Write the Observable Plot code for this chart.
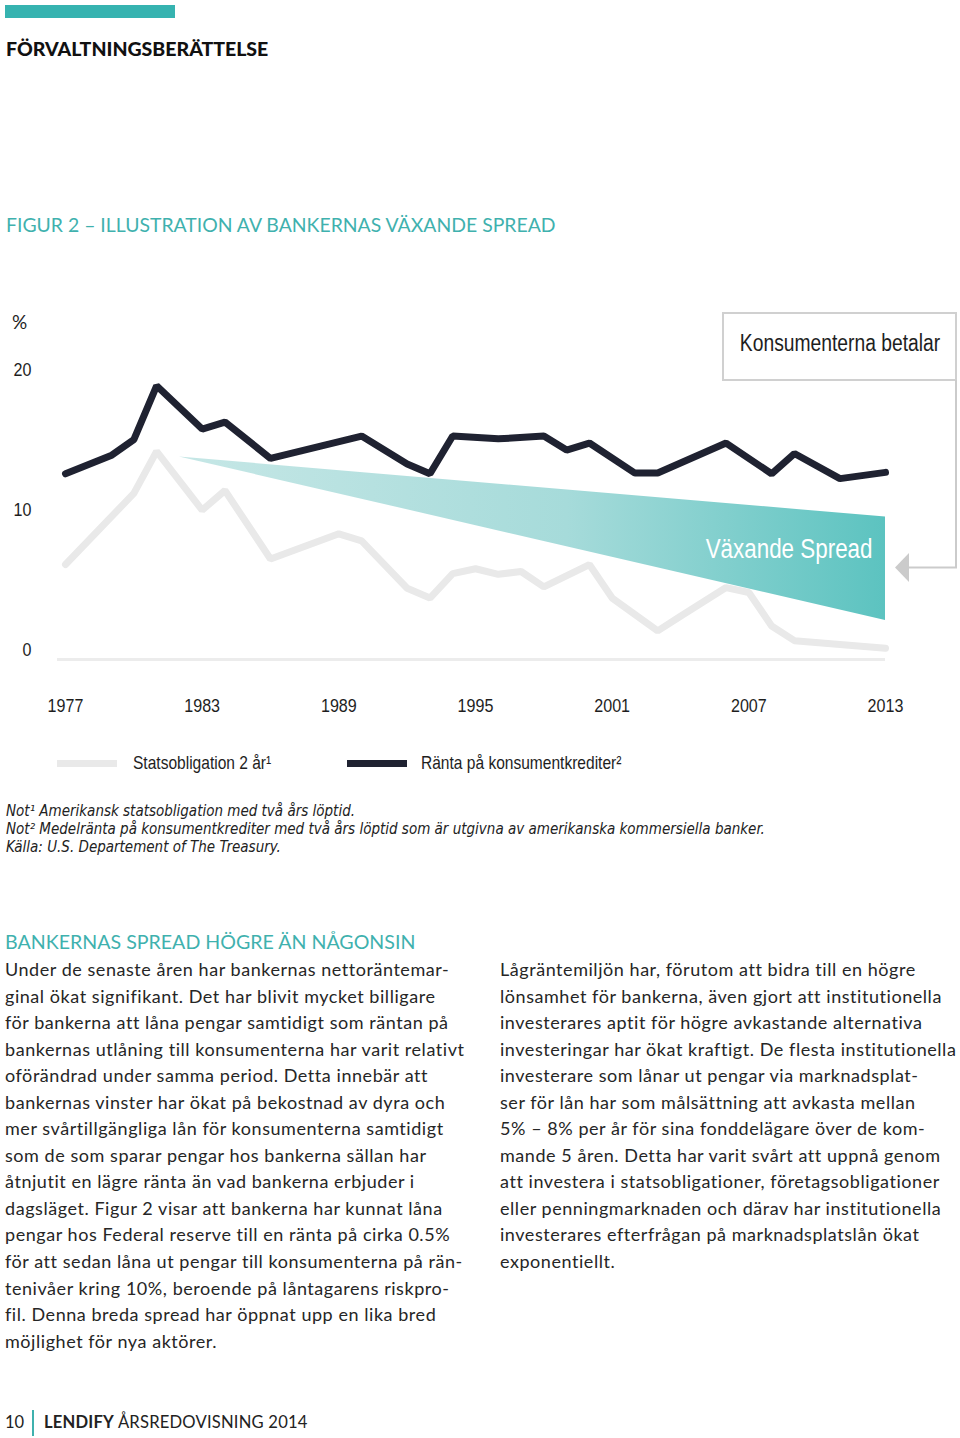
<!DOCTYPE html>
<html><head><meta charset="utf-8">
<script src="https://cdn.jsdelivr.net/npm/d3@7"></script>
<script src="https://cdn.jsdelivr.net/npm/@observablehq/plot@0.6"></script>
<style>
html,body{margin:0;padding:0;background:#fff;}
#page{position:relative;width:960px;height:1438px;overflow:hidden;font-family:Lato,"Open Sans",sans-serif;color:#262626;}
.abs{position:absolute;white-space:nowrap;}
.narrow{font-family:"Liberation Sans",sans-serif;}
.sq{display:inline-block;transform:scaleX(0.84);transform-origin:0 50%;}
.col div{height:26.55px;line-height:26.55px;font-size:18px;letter-spacing:0.55px;white-space:nowrap;}
.foot{font-family:"DejaVu Sans Condensed","Liberation Sans",sans-serif;}
.foot div{height:18px;line-height:18px;font-size:15px;font-style:italic;}
</style></head><body><div id="page">
<div class="abs" style="left:5px;top:5px;width:170px;height:13px;background:#36b3b0"></div>
<div class="abs" style="left:6px;top:38px;font-size:19.5px;font-weight:900;color:#111;line-height:22px">FÖRVALTNINGSBERÄTTELSE</div>
<div class="abs" style="left:6px;top:213px;font-size:19.4px;color:#3fb1ae;line-height:24px">FIGUR 2 – ILLUSTRATION AV BANKERNAS VÄXANDE SPREAD</div>
<div class="abs" style="left:12px;top:310px;font-size:19px;color:#1e1e1e;line-height:24px">%</div>
<div id="chart" class="abs" style="left:0;top:300px"></div>
<div class="abs" style="left:722px;top:312px;width:231px;height:65px;border:2px solid #d0d0d0;background:#fff"></div>
<div class="abs narrow" style="left:840px;top:329px;line-height:28px;font-size:23.5px;color:#1e1e1e;transform:translateX(-50%) scaleX(0.82)">Konsumenterna betalar</div>
<svg class="abs" style="left:0;top:0" width="960" height="700">
<path d="M956,380V567.5H907" fill="none" stroke="#cbcbcb" stroke-width="2"/>
<polygon points="895,567.5 909,553 909,582" fill="#cbcbcb"/>
</svg>
<div id="legend" class="abs narrow" style="left:0;top:750px;width:960px;height:26px;font-size:18.5px;color:#1e1e1e"></div>
<div class="abs foot" style="left:6px;top:802px;color:#222">
<div>Not¹ Amerikansk statsobligation med två års löptid.</div>
<div>Not² Medelränta på konsumentkrediter med två års löptid som är utgivna av amerikanska kommersiella banker.</div>
<div>Källa: U.S. Departement of The Treasury.</div>
</div>
<div class="abs" style="left:5px;top:930px;font-size:19.6px;color:#3fb1ae;line-height:24px">BANKERNAS SPREAD HÖGRE ÄN NÅGONSIN</div>
<div id="col1" class="abs col" style="left:5px;top:956px"></div>
<div id="col2" class="abs col" style="left:500px;top:956px"></div>
<div class="abs" style="left:5px;top:1412px;font-size:16.5px;line-height:20px;color:#222">10</div>
<div class="abs" style="left:32px;top:1410px;width:2px;height:26px;background:#3fb1ae"></div>
<div class="abs" style="left:44px;top:1412px;font-size:16.6px;letter-spacing:0.2px;line-height:20px;color:#222"><b>LENDIFY</b> ÅRSREDOVISNING 2014</div>
</div>
<script>
// ---- chart data ----
const consumerYears = [1977,1979,1980,1981,1983,1984,1986,1990,1992,1993,1994,1996,1998,1999,2000,2002,2003,2006,2008,2009,2011,2013];
const consumerRates = [12.6,13.9,15.05,18.9,15.8,16.3,13.7,15.3,13.3,12.6,15.3,15.1,15.3,14.3,14.8,12.65,12.65,14.8,12.6,14.05,12.25,12.7];
const bondYears = [1977,1980,1981,1983,1984,1986,1989,1990,1992,1993,1994,1995,1996,1997,1998,2000,2001,2003,2004,2006,2007,2008,2009,2013];
const bondRates = [6.1,11.2,14.2,10.0,11.4,6.5,8.3,7.8,4.4,3.7,5.45,5.8,5.4,5.6,4.5,6.1,3.7,1.35,2.4,4.45,4.1,1.7,0.65,0.1];
const spreadYears = [1982, 2013];
const spreadUpper = [13.8, 9.5];
const spreadLower = [13.8, 2.1];
const yearTicks = [1977,1983,1989,1995,2001,2007,2013];
const valueTicks = [0,10,20];
const seriesNames = ["Statsobligation 2 år¹", "Ränta på konsumentkrediter²"];
const seriesColors = ["#e9e9e9", "#1f2231"];
const spreadLabel = "Växande Spread";

const consumer = consumerYears.map((y,i)=>({year:y, value:consumerRates[i]}));
const bond = bondYears.map((y,i)=>({year:y, value:bondRates[i]}));
const spread = spreadYears.map((y,i)=>({year:y, upper:spreadUpper[i], lower:spreadLower[i]}));
const yMin = -0.7;

const gradientDefs = () => {
  const defs = d3.create("svg:defs");
  const g = defs.append("linearGradient").attr("id","spreadGrad").attr("x1","0").attr("x2","1").attr("y1","0").attr("y2","0");
  g.append("stop").attr("offset","0%").attr("stop-color","#c6e7e6");
  g.append("stop").attr("offset","55%").attr("stop-color","#a6dbda");
  g.append("stop").attr("offset","100%").attr("stop-color","#5cc3c0");
  return defs.node();
};

const last = spread[spread.length-1];
const chart = Plot.plot({
  width: 960, height: 420,
  marginLeft: 65, marginRight: 75, marginTop: 42, marginBottom: 61,
  x: {domain: [1977, 2013]},
  y: {domain: [yMin, 22]},
  style: {fontFamily: '"Liberation Sans",sans-serif', fontSize: "18.5px", color: "#1e1e1e", background: "transparent", overflow: "visible"},
  marks: [
    gradientDefs,
    Plot.ruleY([yMin], {stroke: "#ececec", strokeWidth: 3, insetLeft: -8}),
    Plot.axisX({ticks: yearTicks, tickSize: 0, tickPadding: 39, tickFormat: d => String(d), label: null}),
    Plot.axisY({ticks: valueTicks, tickSize: 0, tickPadding: 34, label: null}),
    Plot.lineY(bond, {x: "year", y: "value", stroke: seriesColors[0], strokeWidth: 7, strokeLinejoin: "miter"}),
    Plot.areaY(spread, {x: "year", y1: "lower", y2: "upper", fill: "url(#spreadGrad)"}),
    Plot.text([last], {x: "year", y: d => (d.upper + d.lower) / 2, text: () => spreadLabel, textAnchor: "end", dx: -13, dy: -20, fill: "#fff", fontSize: 28}),
    Plot.lineY(consumer, {x: "year", y: "value", stroke: seriesColors[1], strokeWidth: 7, strokeLinejoin: "miter"})
  ]
});
// condense all chart texts horizontally (narrow typeface look)
d3.select(chart).selectAll("text").each(function(){
  const t = this;
  const big = +(t.getAttribute("font-size") || 0) > 20 || (t.closest("[font-size]") && +t.closest("[font-size]").getAttribute("font-size") > 20);
  const s = big ? 0.8 : 0.87;
  const tr = t.getAttribute("transform");
  if (tr) t.setAttribute("transform", tr + ` scale(${s},1)`);
  else {
    const x = +(t.getAttribute("x")||0), y = +(t.getAttribute("y")||0);
    t.removeAttribute("x"); t.removeAttribute("y");
    t.setAttribute("transform", `translate(${x},${y}) scale(${s},1)`);
  }
});
document.getElementById("chart").appendChild(chart);

// legend
const legend = document.getElementById("legend");
const legendPos = [{sw:57, tx:133}, {sw:347, tx:421}];
seriesNames.forEach((n,i)=>{
  const s = document.createElement("div");
  s.className = "abs";
  s.style.cssText = `left:${legendPos[i].sw}px;top:10px;width:60px;height:7px;background:${seriesColors[i]}`;
  legend.appendChild(s);
  const t = document.createElement("div");
  t.className = "abs";
  t.style.cssText = `left:${legendPos[i].tx}px;top:0px;line-height:26px`;
  const sp = document.createElement("span");
  sp.className = "sq";
  sp.textContent = n;
  t.appendChild(sp);
  legend.appendChild(t);
});

// body text
const col1 = ["Under de senaste åren har bankernas nettoräntemar-","ginal ökat signifikant. Det har blivit mycket billigare","för bankerna att låna pengar samtidigt som räntan på","bankernas utlåning till konsumenterna har varit relativt","oförändrad under samma period. Detta innebär att","bankernas vinster har ökat på bekostnad av dyra och","mer svårtillgängliga lån för konsumenterna samtidigt","som de som sparar pengar hos bankerna sällan har","åtnjutit en lägre ränta än vad bankerna erbjuder i","dagsläget. Figur 2 visar att bankerna har kunnat låna","pengar hos Federal reserve till en ränta på cirka 0.5%","för att sedan låna ut pengar till konsumenterna på rän-","tenivåer kring 10%, beroende på låntagarens riskpro-","fil. Denna breda spread har öppnat upp en lika bred","möjlighet för nya aktörer."];
const col2 = ["Lågräntemiljön har, förutom att bidra till en högre","lönsamhet för bankerna, även gjort att institutionella","investerares aptit för högre avkastande alternativa","investeringar har ökat kraftigt. De flesta institutionella","investerare som lånar ut pengar via marknadsplat-","ser för lån har som målsättning att avkasta mellan","5%  –  8% per år för sina fonddelägare över de kom-","mande 5 åren. Detta har varit svårt att uppnå genom","att investera i statsobligationer, företagsobligationer","eller penningmarknaden och därav har institutionella","investerares efterfrågan på marknadsplatslån ökat","exponentiellt."];
[[col1,"col1"],[col2,"col2"]].forEach(([lines,id])=>{
  const el = document.getElementById(id);
  lines.forEach(l=>{const d=document.createElement("div");d.textContent=l;el.appendChild(d);});
});
</script>
</body></html>
